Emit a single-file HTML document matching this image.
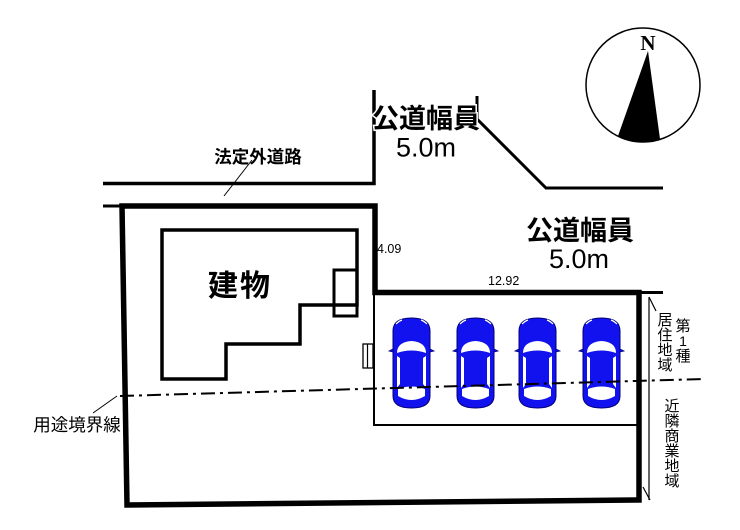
<!DOCTYPE html>
<html>
<head>
<meta charset="utf-8">
<style>
html,body{margin:0;padding:0;background:#fff;}
svg{display:block;}
.jp{font-family:"Liberation Sans","Noto Sans CJK JP",sans-serif;}
</style>
</head>
<body>
<svg width="740" height="530" viewBox="0 0 740 530" xmlns="http://www.w3.org/2000/svg">
<defs>
<g id="car">
  <path d="M0,13 Q0,0 18.5,0 Q37,0 37,13 L37,78 Q37,90 18.5,90 Q0,90 0,78 Z" fill="#1212ee" stroke="#00007a" stroke-width="1"/>
  <path d="M4,35 Q4,24 18.5,23 Q33,24 33,35 Q18.5,30 4,35 Z" fill="#fff"/>
  <path d="M4,38 L7,40 L7,66 L4,70 Z" fill="#fff"/>
  <path d="M33,38 L30,40 L30,66 L33,70 Z" fill="#fff"/>
  <path d="M5,71 Q18.5,66 32,71 L32,78 Q18.5,86 5,78 Z" fill="#fff"/>
  <path d="M3,6 Q6,3 9,2" stroke="#fff" stroke-width="1.2" fill="none"/>
  <path d="M34,6 Q31,3 28,2" stroke="#fff" stroke-width="1.2" fill="none"/>
  <path d="M0,31 L-4,33 L0,34" fill="#1212ee" stroke="#00007a" stroke-width="0.8"/>
  <path d="M37,31 L41,33 L37,34" fill="#1212ee" stroke="#00007a" stroke-width="0.8"/>
</g>
</defs>

<!-- roads -->
<path d="M103,183.5 H374 V90" fill="none" stroke="#000" stroke-width="3.5"/>
<path d="M477,96 V119 L546,188 H663" fill="none" stroke="#000" stroke-width="3"/>

<!-- site boundary -->
<path d="M103,206 H121" fill="none" stroke="#000" stroke-width="3"/>
<path d="M122,206 H375 V292.5 H639 V500 L127,505 Z" fill="none" stroke="#000" stroke-width="5.5" stroke-linejoin="miter"/>
<path d="M639,292.5 H663" fill="none" stroke="#000" stroke-width="3"/>

<!-- parking area -->
<path d="M374,293 V425 H637" fill="none" stroke="#000" stroke-width="2"/>

<!-- building -->
<path d="M162,230 H357 V305 H300 V344 H226 V379 H162 Z" fill="none" stroke="#000" stroke-width="3.5"/>
<rect x="334" y="270" width="23" height="46" fill="none" stroke="#000" stroke-width="3"/>
<path d="M334,305 H357" stroke="#000" stroke-width="3"/>

<!-- door -->
<rect x="363" y="344" width="10" height="24" fill="#fff" stroke="#000" stroke-width="1.3"/>
<path d="M367.5,344 V368" stroke="#000" stroke-width="1.2"/>

<!-- cars -->
<use href="#car" x="393" y="318"/>
<use href="#car" x="457" y="318"/>
<use href="#car" x="519" y="318"/>
<use href="#car" x="583" y="318"/>

<!-- zoning boundary -->
<path d="M120,396 L703,379" stroke="#000" stroke-width="2" stroke-dasharray="14 5 3 5" fill="none"/>

<!-- leaders -->
<path d="M252,160 L224,196" stroke="#000" stroke-width="1"/>
<path d="M93,413 L117,396" stroke="#000" stroke-width="1"/>

<!-- zone extent line -->
<path d="M649,297 V500" stroke="#000" stroke-width="1.2"/>
<path d="M649,297 L656,311" stroke="#000" stroke-width="1.2"/>
<path d="M643,487 L650,500" stroke="#000" stroke-width="1.2"/>

<!-- compass -->
<circle cx="643" cy="85" r="57" fill="#fff" stroke="#000" stroke-width="1.5"/>
<path d="M648,51 L618,136 A57,57 0 0 0 660,139 Z" fill="#000"/>
<text x="648" y="50" text-anchor="middle" font-family="Liberation Serif, serif" font-weight="bold" font-size="21">N</text>

<!-- texts -->
<g class="jp" fill="#000">
  <text x="258" y="163" text-anchor="middle" font-size="17.5" font-weight="bold">法定外道路</text>
  <text x="77" y="431" text-anchor="middle" font-size="17.5">用途境界線</text>
  <text x="240" y="296" text-anchor="middle" font-size="30" font-weight="bold" letter-spacing="2">建物</text>

  <text x="426" y="128" text-anchor="middle" font-size="27" font-weight="bold" stroke="#fff" stroke-width="3" paint-order="stroke">公道幅員</text>
  <text x="426" y="156.5" text-anchor="middle" font-size="27" font-family="Liberation Sans, sans-serif" stroke="#fff" stroke-width="3" paint-order="stroke">5.0m</text>

  <text x="580" y="240" text-anchor="middle" font-size="27" font-weight="bold">公道幅員</text>
  <text x="579" y="268" text-anchor="middle" font-size="27" font-family="Liberation Sans, sans-serif">5.0m</text>

  <text x="377" y="253" font-size="12.5" font-family="Liberation Sans, sans-serif">4.09</text>
  <text x="488" y="285" font-size="12.5" font-family="Liberation Sans, sans-serif">12.92</text>

  <!-- 第1種 column -->
  <text x="683" y="331" text-anchor="middle" font-size="15">第</text>
  <text x="683" y="346" text-anchor="middle" font-size="14">1</text>
  <text x="683" y="361" text-anchor="middle" font-size="15">種</text>
  <!-- 居住地域 column -->
  <text x="665" y="325" text-anchor="middle" font-size="15">居</text>
  <text x="665" y="340" text-anchor="middle" font-size="15">住</text>
  <text x="665" y="355" text-anchor="middle" font-size="15">地</text>
  <text x="665" y="370" text-anchor="middle" font-size="15">域</text>
  <!-- 近隣商業地域 -->
  <text x="672" y="411" text-anchor="middle" font-size="15">近</text>
  <text x="672" y="426" text-anchor="middle" font-size="15">隣</text>
  <text x="672" y="441" text-anchor="middle" font-size="15">商</text>
  <text x="672" y="456" text-anchor="middle" font-size="15">業</text>
  <text x="672" y="471" text-anchor="middle" font-size="15">地</text>
  <text x="672" y="486" text-anchor="middle" font-size="15">域</text>
</g>
</svg>
</body>
</html>
